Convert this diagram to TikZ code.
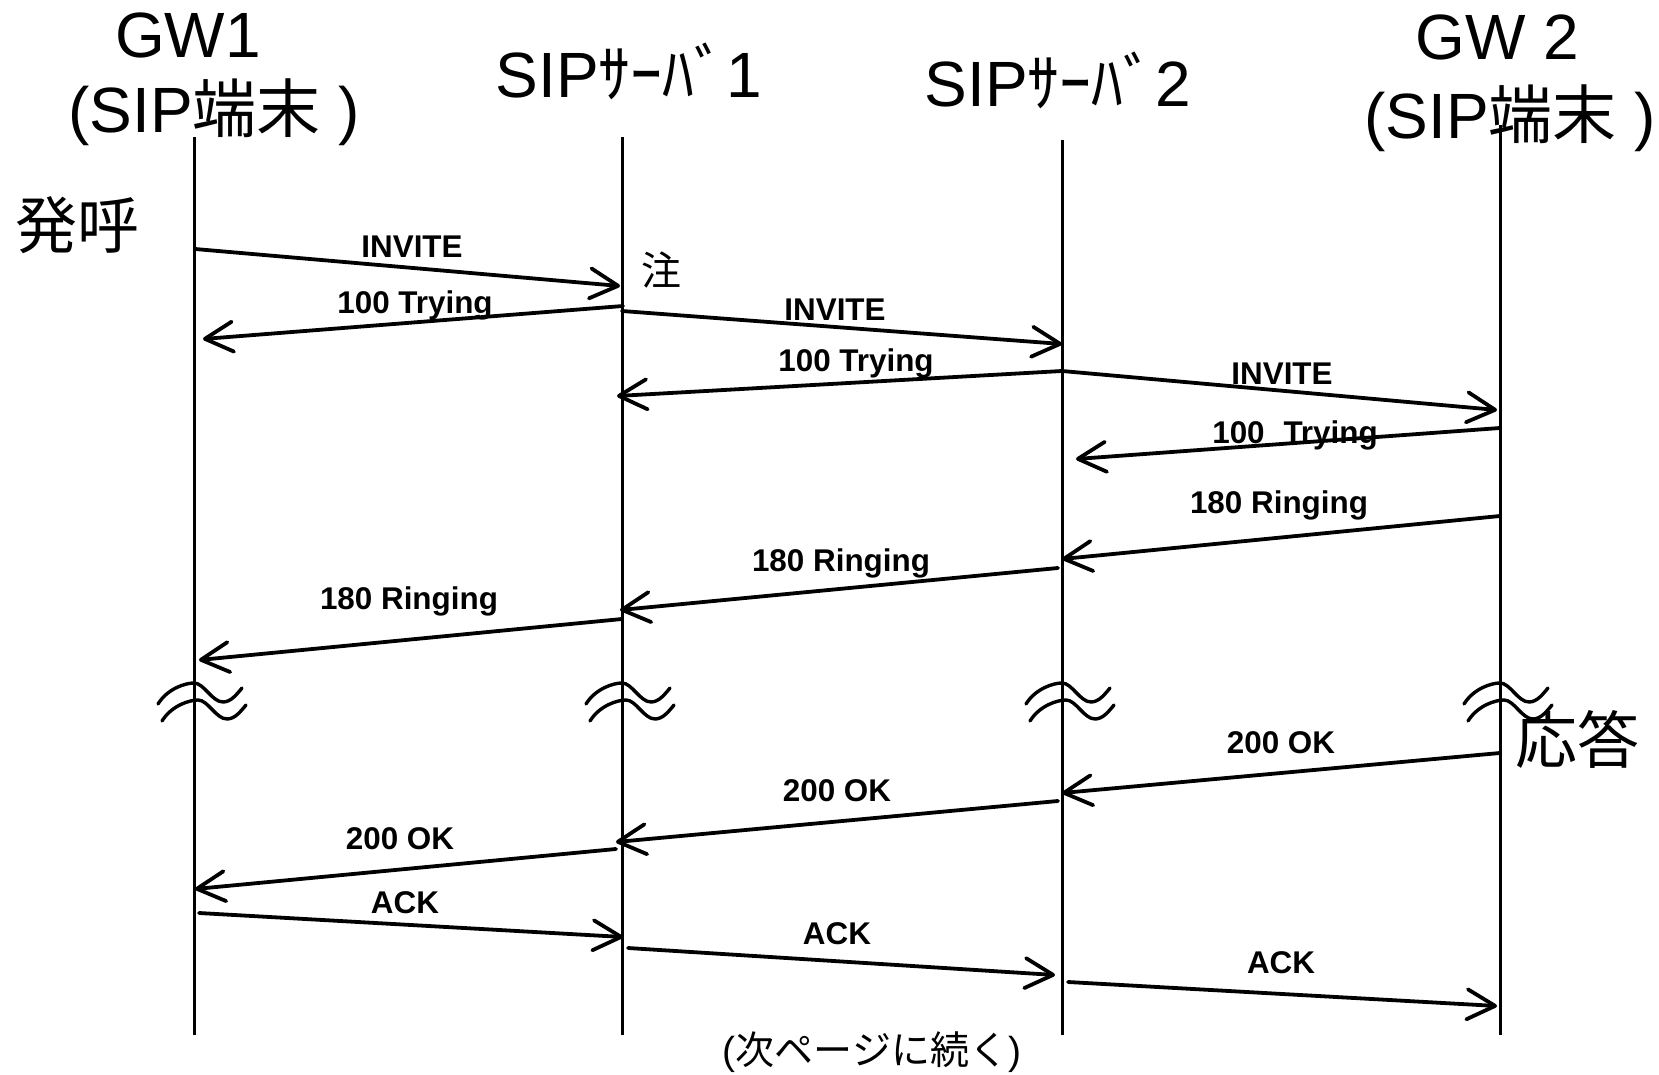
\documentclass[tikz,border=0pt]{standalone}
\usepackage{fontspec}
\setmainfont{Liberation Sans}
\newfontfamily\cjk{Noto Sans CJK JP}
\usetikzlibrary{arrows.meta}
\begin{document}
\begin{tikzpicture}[x=0.5pt,y=-0.5pt,
  life/.style={line width=1.5pt},
  msg/.style={line width=1.9pt, line cap=round,
    -{Straight Barb[length=14pt,width=15pt,round]}},
  lbl/.style={font=\bfseries\fontsize{15.7}{18}\selectfont, anchor=base, inner sep=0pt},
  ttl/.style={font=\fontsize{32}{36}\selectfont, anchor=base, inner sep=0pt},
  big/.style={font=\cjk\fontsize{31}{34}\selectfont, anchor=center, inner sep=0pt},
  wave/.style={line width=1.7pt, line cap=round},
  brk/.pic={
    \draw[wave] (-36,21) .. controls (-26,5) and (-8,0) .. (0,0)
      .. controls (10,0) and (18,19) .. (29,19)
      .. controls (37,19) and (43,11) .. (48,5);
    \draw[wave] (-32,38) .. controls (-22,22) and (-4,17) .. (4,17)
      .. controls (14,17) and (22,36) .. (33,36)
      .. controls (41,36) and (47,28) .. (52,22);
  }]
\useasboundingbox (0,0) rectangle (1659,1075);

% titles
\node[ttl] (gw1a) at (188,58) {GW1};
\node[ttl] (gw1b) at (214,133) {(SIP{\cjk 端末} )};
\node[ttl] (sip1) at (629,98) {SIP{\cjk ｻｰﾊﾞ}1};
\node[ttl] (sip2) at (1058,107) {SIP{\cjk ｻｰﾊﾞ}2};
\node[ttl] (gw2a) at (1497,60) {GW 2};
\node[ttl] (gw2b) at (1510,139) {(SIP{\cjk 端末} )};

% lifelines
\coordinate (L1t) at (194,137); \coordinate (L1b) at (194,1035);
\coordinate (L2t) at (622,137); \coordinate (L2b) at (622,1035);
\coordinate (L3t) at (1062,140); \coordinate (L3b) at (1062,1035);
\coordinate (L4t) at (1500,125); \coordinate (L4b) at (1500,1035);
\draw[life] (L1t) -- (L1b);
\draw[life] (L2t) -- (L2b);
\draw[life] (L3t) -- (L3b);
\draw[life] (L4t) -- (L4b);

% side texts
\node[big] (call) at (77,225) {発呼};
\node[big] (ans) at (1577,739) {応答};
\node[font=\cjk\fontsize{20}{22}\selectfont, inner sep=0pt] (note) at (661,270) {注};
\node[font=\fontsize{19.5}{22}\selectfont, anchor=base, inner sep=0pt] (cont) at (872,1064) {({\cjk 次ページに続く})};

% breaks
\coordinate (B1) at (194,683);
\coordinate (B2) at (622,683);
\coordinate (B3) at (1062,683);
\coordinate (B4) at (1500,683);
\pic at (B1) {brk};
\pic at (B2) {brk};
\pic at (B3) {brk};
\pic at (B4) {brk};

% message end points
\coordinate (m1s) at (195,249);   \coordinate (m1e) at (620,286);
\coordinate (m2s) at (623,306);   \coordinate (m2e) at (203,339);
\coordinate (m3s) at (622,311);   \coordinate (m3e) at (1062,344);
\coordinate (m4s) at (1062,371);  \coordinate (m4e) at (617,396);
\coordinate (m5s) at (1062,371);  \coordinate (m5e) at (1497,410);
\coordinate (m6s) at (1500,428);  \coordinate (m6e) at (1076,459);
\coordinate (m7s) at (1500,516);  \coordinate (m7e) at (1062,559);
\coordinate (m8s) at (1058,568);  \coordinate (m8e) at (620,610);
\coordinate (m9s) at (622,619);   \coordinate (m9e) at (199,660);
\coordinate (m10s) at (1500,753); \coordinate (m10e) at (1062,793);
\coordinate (m11s) at (1058,801); \coordinate (m11e) at (616,842);
\coordinate (m12s) at (616,849);  \coordinate (m12e) at (195,889);
\coordinate (m13s) at (199,913);  \coordinate (m13e) at (623,937);
\coordinate (m14s) at (628,948);  \coordinate (m14e) at (1055,975);
\coordinate (m15s) at (1068,982); \coordinate (m15e) at (1497,1006);

\foreach \i in {1,...,15} { \draw[msg] (m\i s) -- (m\i e); }

% labels
\node[lbl] (t1) at (412,257) {INVITE};
\node[lbl] (t2) at (415,314) {100 Trying};
\node[lbl] (t3) at (835,321) {INVITE};
\node[lbl] (t4) at (856,371) {100 Trying};
\node[lbl] (t5) at (1282,384) {INVITE};
\node[lbl] (t6) at (1295,443) {100\hspace{0.6em}Trying};
\node[lbl] (t7) at (1279,513) {180 Ringing};
\node[lbl] (t8) at (841,571) {180 Ringing};
\node[lbl] (t9) at (409,609) {180 Ringing};
\node[lbl] (t10) at (1281,753) {200 OK};
\node[lbl] (t11) at (837,801) {200 OK};
\node[lbl] (t12) at (400,849) {200 OK};
\node[lbl] (t13) at (405,913) {ACK};
\node[lbl] (t14) at (837,944) {ACK};
\node[lbl] (t15) at (1281,973) {ACK};
\end{tikzpicture}
\end{document}
